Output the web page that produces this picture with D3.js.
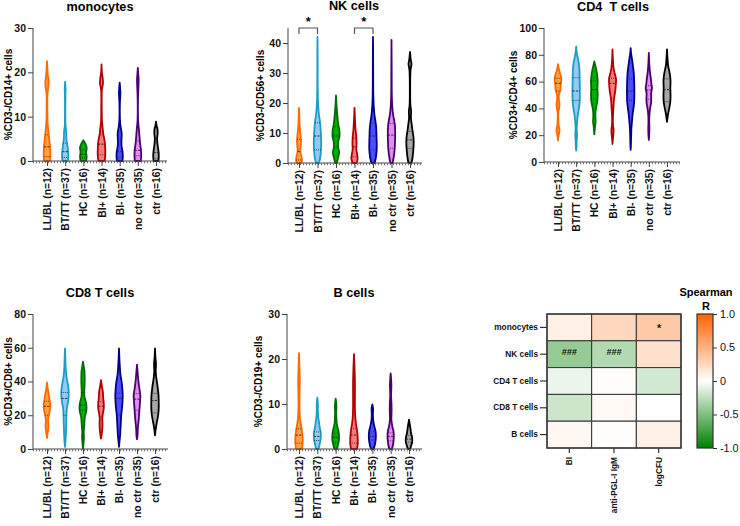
<!DOCTYPE html>
<html>
<head>
<meta charset="utf-8">
<script src="https://cdn.jsdelivr.net/npm/d3@7"></script>
<style>
  body { margin: 0; background: #fff; }
  svg { display: block; font-family: "Liberation Sans", Arial, sans-serif; }
</style>
</head>
<body>
<svg id="chart" width="740" height="526"></svg>
<script>
const groups = ['LL/BL (n=12)', 'BT/TT (n=37)', 'HC (n=16)', 'BI+ (n=14)', 'BI- (n=35)', 'no ctr (n=35)', 'ctr (n=16)']
const fills = ['#ffa040', '#93c9f5', '#00b000', '#f77b7b', '#4d4dff', '#e58af0', '#a6a6a6']
const strokes = ['#ff6a00', '#1a9ec4', '#006b00', '#b30000', '#00008b', '#4b0070', '#000000']

// violin outlines: [value, relative half width]
const monoViolins = [
  [[0,0.8],[1,0.9],[3,0.85],[5,0.6],[7,0.35],[9,0.15],[12,0.1],[15,0.12],[17,0.4],[18,0.45],[19.5,0.2],[21,0.1],[22.5,0]],
  [[0,0.7],[1,0.85],[2,0.8],[3.5,0.6],[5,0.35],[6.5,0.3],[8,0.1],[12,0.05],[15,0.08],[16,0.12],[17.9,0]],
  [[0,0.75],[1,0.9],[2,0.75],[3,0.9],[3.8,0.6],[4.7,0]],
  [[0,0.8],[1,1],[3,1],[4.5,0.85],[6,0.5],[7.5,0.3],[9,0.12],[12,0.06],[16,0.1],[17.5,0.4],[18.5,0.35],[20,0.1],[21.8,0]],
  [[0,0.75],[1,0.85],[2,0.8],[3.5,0.5],[5,0.5],[6.2,0.55],[7.5,0.3],[9,0.1],[13,0.06],[15.3,0.2],[16.5,0.12],[17.7,0]],
  [[0,0.8],[1,0.9],[2.5,0.85],[4,0.6],[6,0.4],[7.5,0.25],[9,0.08],[14,0.05],[17.5,0.2],[18.5,0.22],[19.8,0.1],[21,0]],
  [[0,0.65],[1,0.75],[2,0.7],[3.5,0.45],[5,0.3],[6.2,0.45],[7.2,0.4],[8,0.15],[8.9,0]]
]
const monoQuart = [[1.0,3.2,5.9],[0.8,2.1,4.0],[0.7,1.5,2.5],[1.4,3.8,5.9],[0.8,2.1,4.5],[1.2,2.4,4.5],[0.5,1.9,4.0]]

const nkViolins = [
  [[0,0.6],[1,0.8],[2.5,0.6],[4,0.35],[5.5,0.45],[7.5,0.55],[9.5,0.4],[12,0.2],[15,0.1],[18.4,0]],
  [[0,0.4],[2,0.75],[4.5,0.95],[7,1],[9,0.95],[12,0.8],[14,0.65],[16,0.4],[19,0.2],[22,0.1],[27,0.05],[35,0.04],[42,0]],
  [[0,0.2],[1.5,0.5],[3.5,0.85],[5.5,0.55],[7,0.6],[9,0.95],[11,0.9],[13,0.6],[16,0.35],[19,0.15],[22.5,0]],
  [[0,0.55],[1.5,0.85],[3,0.7],[4.5,0.5],[6.5,0.55],[8.5,0.5],[11,0.3],[14,0.15],[18.4,0]],
  [[0,0.45],[2,0.8],[4.5,1],[7,1],[9,0.95],[12,0.85],[14,0.65],[16,0.4],[19,0.2],[22,0.1],[27,0.06],[35,0.04],[42,0]],
  [[0,0.3],[2,0.6],[4.5,0.85],[7,0.95],[9.5,1],[12,0.95],[14,0.75],[16,0.45],[19,0.2],[23,0.08],[30,0.05],[41,0]],
  [[0,0.4],[2,0.7],[4.5,0.9],[7,1],[9,0.9],[11,0.65],[13,0.45],[15,0.25],[17.5,0.3],[19,0.12],[25,0.05],[31,0.15],[33,0.4],[34.5,0.2],[37,0]]
]
const nkQuart = [[1.0,3.8,7.9],[4.4,9.0,13.4],[5.4,9.0,12.1],[2.1,5.4,8.2],[4.4,9.0,13.3],[4.9,9.3,13.2],[4.9,7.7,10.5]]

const cd4Violins = [
  [[16,0],[19,0.1],[22,0.35],[24,0.4],[27,0.2],[32,0.08],[37,0.1],[40,0.3],[43,0.4],[46,0.25],[50,0.25],[54,0.65],[58,0.75],[62,0.9],[65,0.7],[68,0.35],[73,0]],
  [[8.5,0],[12,0.1],[17,0.15],[20,0.25],[24,0.15],[30,0.25],[35,0.45],[40,0.75],[45,0.95],[52,1],[60,0.95],[68,0.9],[74,0.7],[78,0.4],[82,0.15],[86,0]],
  [[20.6,0],[24,0.1],[27,0.2],[30,0.35],[33,0.3],[37,0.3],[41,0.5],[45,0.8],[50,0.9],[55,0.85],[60,0.9],[65,0.75],[69,0.5],[72,0.25],[75,0]],
  [[13.4,0],[17,0.1],[21,0.25],[24,0.3],[28,0.12],[34,0.12],[38,0.2],[43,0.3],[48,0.45],[53,0.75],[58,0.9],[62,0.95],[66,0.6],[70,0.3],[76,0.12],[84,0]],
  [[9,0],[12,0.06],[18,0.12],[25,0.2],[30,0.35],[35,0.5],[40,0.75],[45,0.95],[52,1],[60,0.95],[66,0.85],[72,0.6],[77,0.35],[81,0.12],[85,0]],
  [[16.4,0],[20,0.1],[25,0.15],[30,0.1],[35,0.15],[40,0.35],[44,0.6],[48,0.65],[51,0.6],[55,0.85],[58,0.7],[62,0.55],[66,0.35],[72,0.15],[76,0.08],[81.5,0]],
  [[30,0],[33,0.15],[36,0.3],[40,0.6],[45,0.9],[50,0.95],[55,0.9],[60,0.95],[64,0.85],[68,0.6],[72,0.3],[77,0.15],[84,0]]
]
const cd4Quart = [[53,58.7,62.4],[46,53,63],[47,54,61],[42,58.7,62.5],[46,53,62],[46.8,53.7,57],[45,54,62]]

const cd8Violins = [
  [[6.5,0],[9,0.15],[12,0.35],[14,0.4],[16,0.3],[18,0.35],[20,0.5],[23,0.8],[26,0.9],[29,0.7],[32,0.5],[35,0.25],[39.4,0]],
  [[1.2,0],[4,0.12],[8,0.22],[12,0.3],[16,0.35],[20,0.4],[24,0.5],[27,0.75],[30,0.95],[34,1],[38,0.8],[42,0.45],[46,0.25],[50,0.15],[55,0.08],[59.6,0]],
  [[0,0],[3,0.12],[7,0.25],[10,0.2],[13,0.3],[16,0.4],[19,0.5],[22,0.85],[25,0.95],[28,0.75],[31,0.4],[34,0.35],[37,0.4],[40,0.45],[43,0.45],[46,0.4],[49,0.2],[51.7,0]],
  [[6.1,0],[9,0.2],[12,0.35],[15,0.4],[18,0.35],[21,0.5],[24,0.75],[27,0.75],[30,0.6],[34,0.5],[37,0.25],[40.8,0]],
  [[1.2,0],[4,0.12],[8,0.3],[12,0.4],[16,0.5],[20,0.6],[24,0.8],[28,0.95],[32,1],[36,0.9],[40,0.7],[44,0.4],[48,0.25],[53,0.12],[59.6,0]],
  [[5.7,0],[8,0.15],[11,0.2],[14,0.3],[17,0.45],[20,0.55],[23,0.65],[26,0.75],[29,0.85],[32,0.9],[35,0.7],[38,0.5],[42,0.3],[46,0.15],[50,0]],
  [[8.1,0],[11,0.15],[14,0.35],[17,0.6],[20,0.85],[24,1],[28,1],[32,0.95],[36,0.75],[40,0.5],[43,0.3],[46,0.2],[49,0.25],[51,0.25],[54,0.12],[59.6,0]]
]
const cd8Quart = [[20,25.3,28.3],[20,30,33.5],[23,26,33.5],[19.4,25.3,28],[20,30,33],[23,29.5,32.9],[21.4,28.7,33]]

const bViolins = [
  [[0,0.8],[1,0.95],[2.5,1],[4,0.8],[5.5,0.5],[7,0.25],[9,0.15],[12,0.15],[15,0.22],[17,0.15],[19,0.1],[21.3,0]],
  [[0,0.35],[1,0.6],[2,0.85],[3,0.95],[4,0.85],[5,0.6],[6,0.45],[7,0.25],[8.5,0.15],[10,0.15],[11.4,0]],
  [[0,0.35],[1,0.65],[2,0.9],[3,0.9],[4,0.75],[5,0.45],[6,0.25],[8,0.15],[9.5,0.2],[11.2,0]],
  [[0,0.8],[1,1],[2.5,1],[4,0.85],[5.5,0.55],[7,0.35],[9,0.25],[12,0.25],[15,0.25],[18,0.15],[21.1,0]],
  [[0,0.35],[1,0.7],[2,0.9],[3,0.95],[4,0.85],[5,0.55],[6,0.3],[7.5,0.15],[9,0.2],[9.9,0]],
  [[0,0.35],[1,0.65],[2,0.8],[3,0.85],[4,0.75],[5,0.45],[6.5,0.2],[8.5,0.25],[10,0.22],[12,0.12],[14,0.2],[15.5,0.12],[16.8,0]],
  [[0,0.3],[0.8,0.6],[1.5,0.85],[2.5,0.85],[3.5,0.55],[4.5,0.4],[5.5,0.2],[6.5,0]]
]
const bQuart = [[1.3,3.1,4.5],[1.9,2.8,3.8],[1.3,2.6,3.5],[1.3,3.1,4.5],[2.0,2.8,3.8],[1.8,2.8,3.6],[1.5,2.2,3.0]]

// significance brackets on NK panel: [from group, to group]
const nkBrackets = [[0, 1], [3, 4]]

// correlation heatmap
const heatRows = ['monocytes', 'NK cells', 'CD4 T cells', 'CD8 T cells', 'B cells']
const heatCols = ['BI', 'anti-PGL-I IgM', 'logCFU']
const heatR = [
  [0.1, 0.25, 0.35],
  [-0.42, -0.3, 0.2],
  [-0.08, 0.02, -0.18],
  [-0.2, 0.04, 0.0],
  [0.05, 0.01, 0.1]
]
const heatMarks = [
  ['', '', '*'],
  ['###', '###', ''],
  ['', '', ''],
  ['', '', ''],
  ['', '', '']
]
const barTicks = [1, 0.5, 0, -0.5, -1]
const barLabels = ['1.0', '0.5', '0', '-0.5', '-1.0']

const svg = d3.select('#chart')
const axisColor = '#444'
const font = '"Liberation Sans", Arial, sans-serif'

const panels = [
  {title: 'monocytes', ylabel: '%CD3-/CD14+ cells', violins: monoViolins, quart: monoQuart, max: 30, ticks: [0, 10, 20, 30],
    ax: 33, x: [47, 156], xEnd: 167, y: [161, 28], titleAt: [100, 11], labelX: 9},
  {title: 'NK cells', ylabel: '%CD3-/CD56+ cells', violins: nkViolins, quart: nkQuart, max: 45, ticks: [0, 10, 20, 30, 40],
    ax: 288, x: [299, 410], xEnd: 422, y: [163, 28], titleAt: [354, 10], labelX: 261, brackets: nkBrackets},
  {title: 'CD4\u00a0 T cells', ylabel: '%CD3+/CD4+ cells', violins: cd4Violins, quart: cd4Quart, max: 100, ticks: [0, 20, 40, 60, 80, 100],
    ax: 544, x: [558, 667], xEnd: 680, y: [162, 28], titleAt: [613, 11], labelX: 514},
  {title: 'CD8 T cells', ylabel: '%CD3+/CD8+ cells', violins: cd8Violins, quart: cd8Quart, max: 80, ticks: [0, 20, 40, 60, 80],
    ax: 33, x: [47, 155], xEnd: 168, y: [449, 314], titleAt: [100, 297], labelX: 9},
  {title: 'B cells', ylabel: '%CD3-/CD19+ cells', violins: bViolins, quart: bQuart, max: 30, ticks: [0, 10, 20, 30],
    ax: 287, x: [299, 409], xEnd: 422, y: [449, 314], titleAt: [354, 297], labelX: 259}
]

const halfW = d3.scaleLinear().domain([0, 1]).range([0, 3.7])

function drawPanel(p) {
  const g = svg.append('g')
  const y = d3.scaleLinear().domain([0, p.max]).range(p.y)
  const x = d3.scalePoint().domain(groups).range(p.x)

  g.append('text')
    .attr('x', p.titleAt[0]).attr('y', p.titleAt[1])
    .attr('text-anchor', 'middle')
    .attr('font-size', 12.7).attr('font-weight', 'bold')
    .text(p.title)

  g.append('text')
    .attr('transform', `translate(${p.labelX},${(p.y[0] + p.y[1]) / 2}) rotate(-90)`)
    .attr('text-anchor', 'middle').attr('dominant-baseline', 'middle')
    .attr('font-size', 10).attr('font-weight', 'bold')
    .text(p.ylabel)

  // y axis
  const yAxis = g.append('g')
    .attr('transform', `translate(${p.ax},0)`)
    .call(d3.axisLeft(y).tickValues(p.ticks).tickSize(5).tickPadding(2))
  yAxis.select('.domain').attr('stroke', axisColor).attr('d', `M0,${p.y[0]}V${p.y[1]}`)
  yAxis.selectAll('.tick line').attr('stroke', axisColor)
  yAxis.selectAll('.tick text')
    .attr('font-size', 10.5).attr('font-weight', 'bold').attr('fill', '#111')
    .attr('font-family', font)

  // violins
  groups.forEach((grp, i) => {
    const cx = x(grp)
    const prof = p.violins[i]
    const area = d3.area()
      .curve(d3.curveCatmullRom)
      .y((d) => y(d[0]))
      .x0((d) => cx - halfW(d[1]))
      .x1((d) => cx + halfW(d[1]))
    g.append('path')
      .attr('d', area(prof))
      .attr('fill', fills[i])
      .attr('stroke', strokes[i])
      .attr('stroke-width', 1.8)
      .attr('stroke-linejoin', 'round')

    const widthAt = d3.scaleLinear().domain(prof.map((d) => d[0])).range(prof.map((d) => d[1])).clamp(true)
    p.quart[i].forEach((q, k) => {
      const w = halfW(widthAt(q))
      g.append('line')
        .attr('x1', cx - w).attr('x2', cx + w)
        .attr('y1', y(q)).attr('y2', y(q))
        .attr('stroke', '#222')
        .attr('stroke-width', 0.9)
        .attr('stroke-dasharray', k == 1 ? '2.2,1.2' : '0.8,1.2')
    })
  })

  // x axis: baseline with small minor marks, ticks at groups
  const y0 = y(0)
  g.append('line')
    .attr('x1', p.ax).attr('x2', p.xEnd).attr('y1', y0 + 1.2).attr('y2', y0 + 1.2)
    .attr('stroke', '#777').attr('stroke-width', 2).attr('stroke-dasharray', '1,2')
  g.append('line')
    .attr('x1', p.ax).attr('x2', p.xEnd).attr('y1', y0).attr('y2', y0)
    .attr('stroke', axisColor).attr('stroke-width', 1)
  const xAxis = g.append('g')
    .attr('transform', `translate(0,${y0})`)
    .call(d3.axisBottom(x).tickSize(5).tickPadding(3))
  xAxis.select('.domain').remove()
  xAxis.selectAll('.tick line').attr('stroke', axisColor)
  xAxis.selectAll('.tick text')
    .attr('transform', 'rotate(-90)')
    .attr('text-anchor', 'end')
    .attr('dy', '0.35em').attr('x', -7).attr('y', 0)
    .attr('font-size', 10.3).attr('font-weight', 'bold').attr('fill', '#111')
    .attr('font-family', font)

  if (p.brackets) {
    p.brackets.forEach(([a, b]) => {
      const xa = x(groups[a]), xb = x(groups[b])
      g.append('path')
        .attr('d', `M${xa},${p.y[1] + 6}V${p.y[1]}H${xb}V${p.y[1] + 6}`)
        .attr('fill', 'none').attr('stroke', '#555').attr('stroke-width', 1.2)
      g.append('text')
        .attr('x', (xa + xb) / 2).attr('y', p.y[1] - 2)
        .attr('text-anchor', 'middle')
        .attr('font-size', 13).attr('font-weight', 'bold')
        .text('*')
    })
  }
}

panels.forEach(drawPanel)

// heatmap
const hx = d3.scaleBand().domain(heatCols).range([547, 681])
const hy = d3.scaleBand().domain(heatRows).range([314, 448])
const color = d3.scaleLinear().domain([-1, 0, 1]).range(['#008000', '#ffffff', '#ff6400'])

const heat = svg.append('g')
heatRows.forEach((row, r) => {
  heatCols.forEach((col, c) => {
    heat.append('rect')
      .attr('x', hx(col)).attr('y', hy(row))
      .attr('width', hx.bandwidth()).attr('height', hy.bandwidth())
      .attr('fill', color(heatR[r][c]))
      .attr('stroke', '#333').attr('stroke-width', 1)
    if (heatMarks[r][c]) {
      heat.append('text')
        .attr('x', hx(col) + hx.bandwidth() / 2)
        .attr('y', hy(row) + hy.bandwidth() / 2 + (heatMarks[r][c] == '*' ? 5 : 1))
        .attr('text-anchor', 'middle')
        .attr('font-size', heatMarks[r][c] == '*' ? 11 : 9)
        .attr('font-weight', 'bold')
        .attr('font-style', 'italic')
        .attr('fill', '#111')
        .text(heatMarks[r][c])
    }
  })
})
heat.append('rect')
  .attr('x', 547).attr('y', 314).attr('width', 134).attr('height', 134)
  .attr('fill', 'none').attr('stroke', '#333').attr('stroke-width', 1.3)

const hyAxis = heat.append('g')
  .attr('transform', 'translate(547,0)')
  .call(d3.axisLeft(hy).tickSize(7).tickPadding(2))
hyAxis.select('.domain').remove()
hyAxis.selectAll('.tick line').attr('stroke', '#333').attr('stroke-width', 1.2)
hyAxis.selectAll('.tick text')
  .attr('font-size', 8.3).attr('font-weight', 'bold').attr('fill', '#111')
  .attr('font-family', font)

const hxAxis = heat.append('g')
  .attr('transform', 'translate(0,448)')
  .call(d3.axisBottom(hx).tickSize(5).tickPadding(3))
hxAxis.select('.domain').remove()
hxAxis.selectAll('.tick line').attr('stroke', '#333').attr('stroke-width', 1.2)
hxAxis.selectAll('.tick text')
  .attr('transform', 'rotate(-90)')
  .attr('text-anchor', 'end')
  .attr('dy', '0.35em').attr('x', -9).attr('y', 0)
  .attr('font-size', 8.3).attr('font-weight', 'bold').attr('fill', '#111')
  .attr('font-family', font)

// colour bar
const barY = d3.scaleLinear().domain([-1, 1]).range([448, 314])
const grad = svg.append('defs').append('linearGradient')
  .attr('id', 'bar-grad').attr('x1', 0).attr('x2', 0).attr('y1', 1).attr('y2', 0)
grad.selectAll('stop')
  .data([-1, 0, 1])
  .join('stop')
  .attr('offset', (d) => (d + 1) / 2)
  .attr('stop-color', (d) => color(d))

svg.append('rect')
  .attr('x', 697).attr('y', barY(1)).attr('width', 16).attr('height', barY(-1) - barY(1))
  .attr('fill', 'url(#bar-grad)').attr('stroke', '#333').attr('stroke-width', 1.2)

const barAxis = svg.append('g')
  .attr('transform', 'translate(713,0)')
  .call(d3.axisRight(barY).tickValues(barTicks).tickSize(4).tickPadding(3)
    .tickFormat((d, i) => barLabels[i]))
barAxis.select('.domain').remove()
barAxis.selectAll('.tick line').attr('stroke', '#333')
barAxis.selectAll('.tick text')
  .attr('font-size', 10.8).attr('fill', '#111')
  .attr('font-family', font)

svg.append('text')
  .attr('x', 706).attr('y', 296)
  .attr('text-anchor', 'middle')
  .attr('font-size', 11).attr('font-weight', 'bold')
  .text('Spearman')
svg.append('text')
  .attr('x', 706).attr('y', 310)
  .attr('text-anchor', 'middle')
  .attr('font-size', 11).attr('font-weight', 'bold')
  .text('R')
</script>
</body>
</html>
